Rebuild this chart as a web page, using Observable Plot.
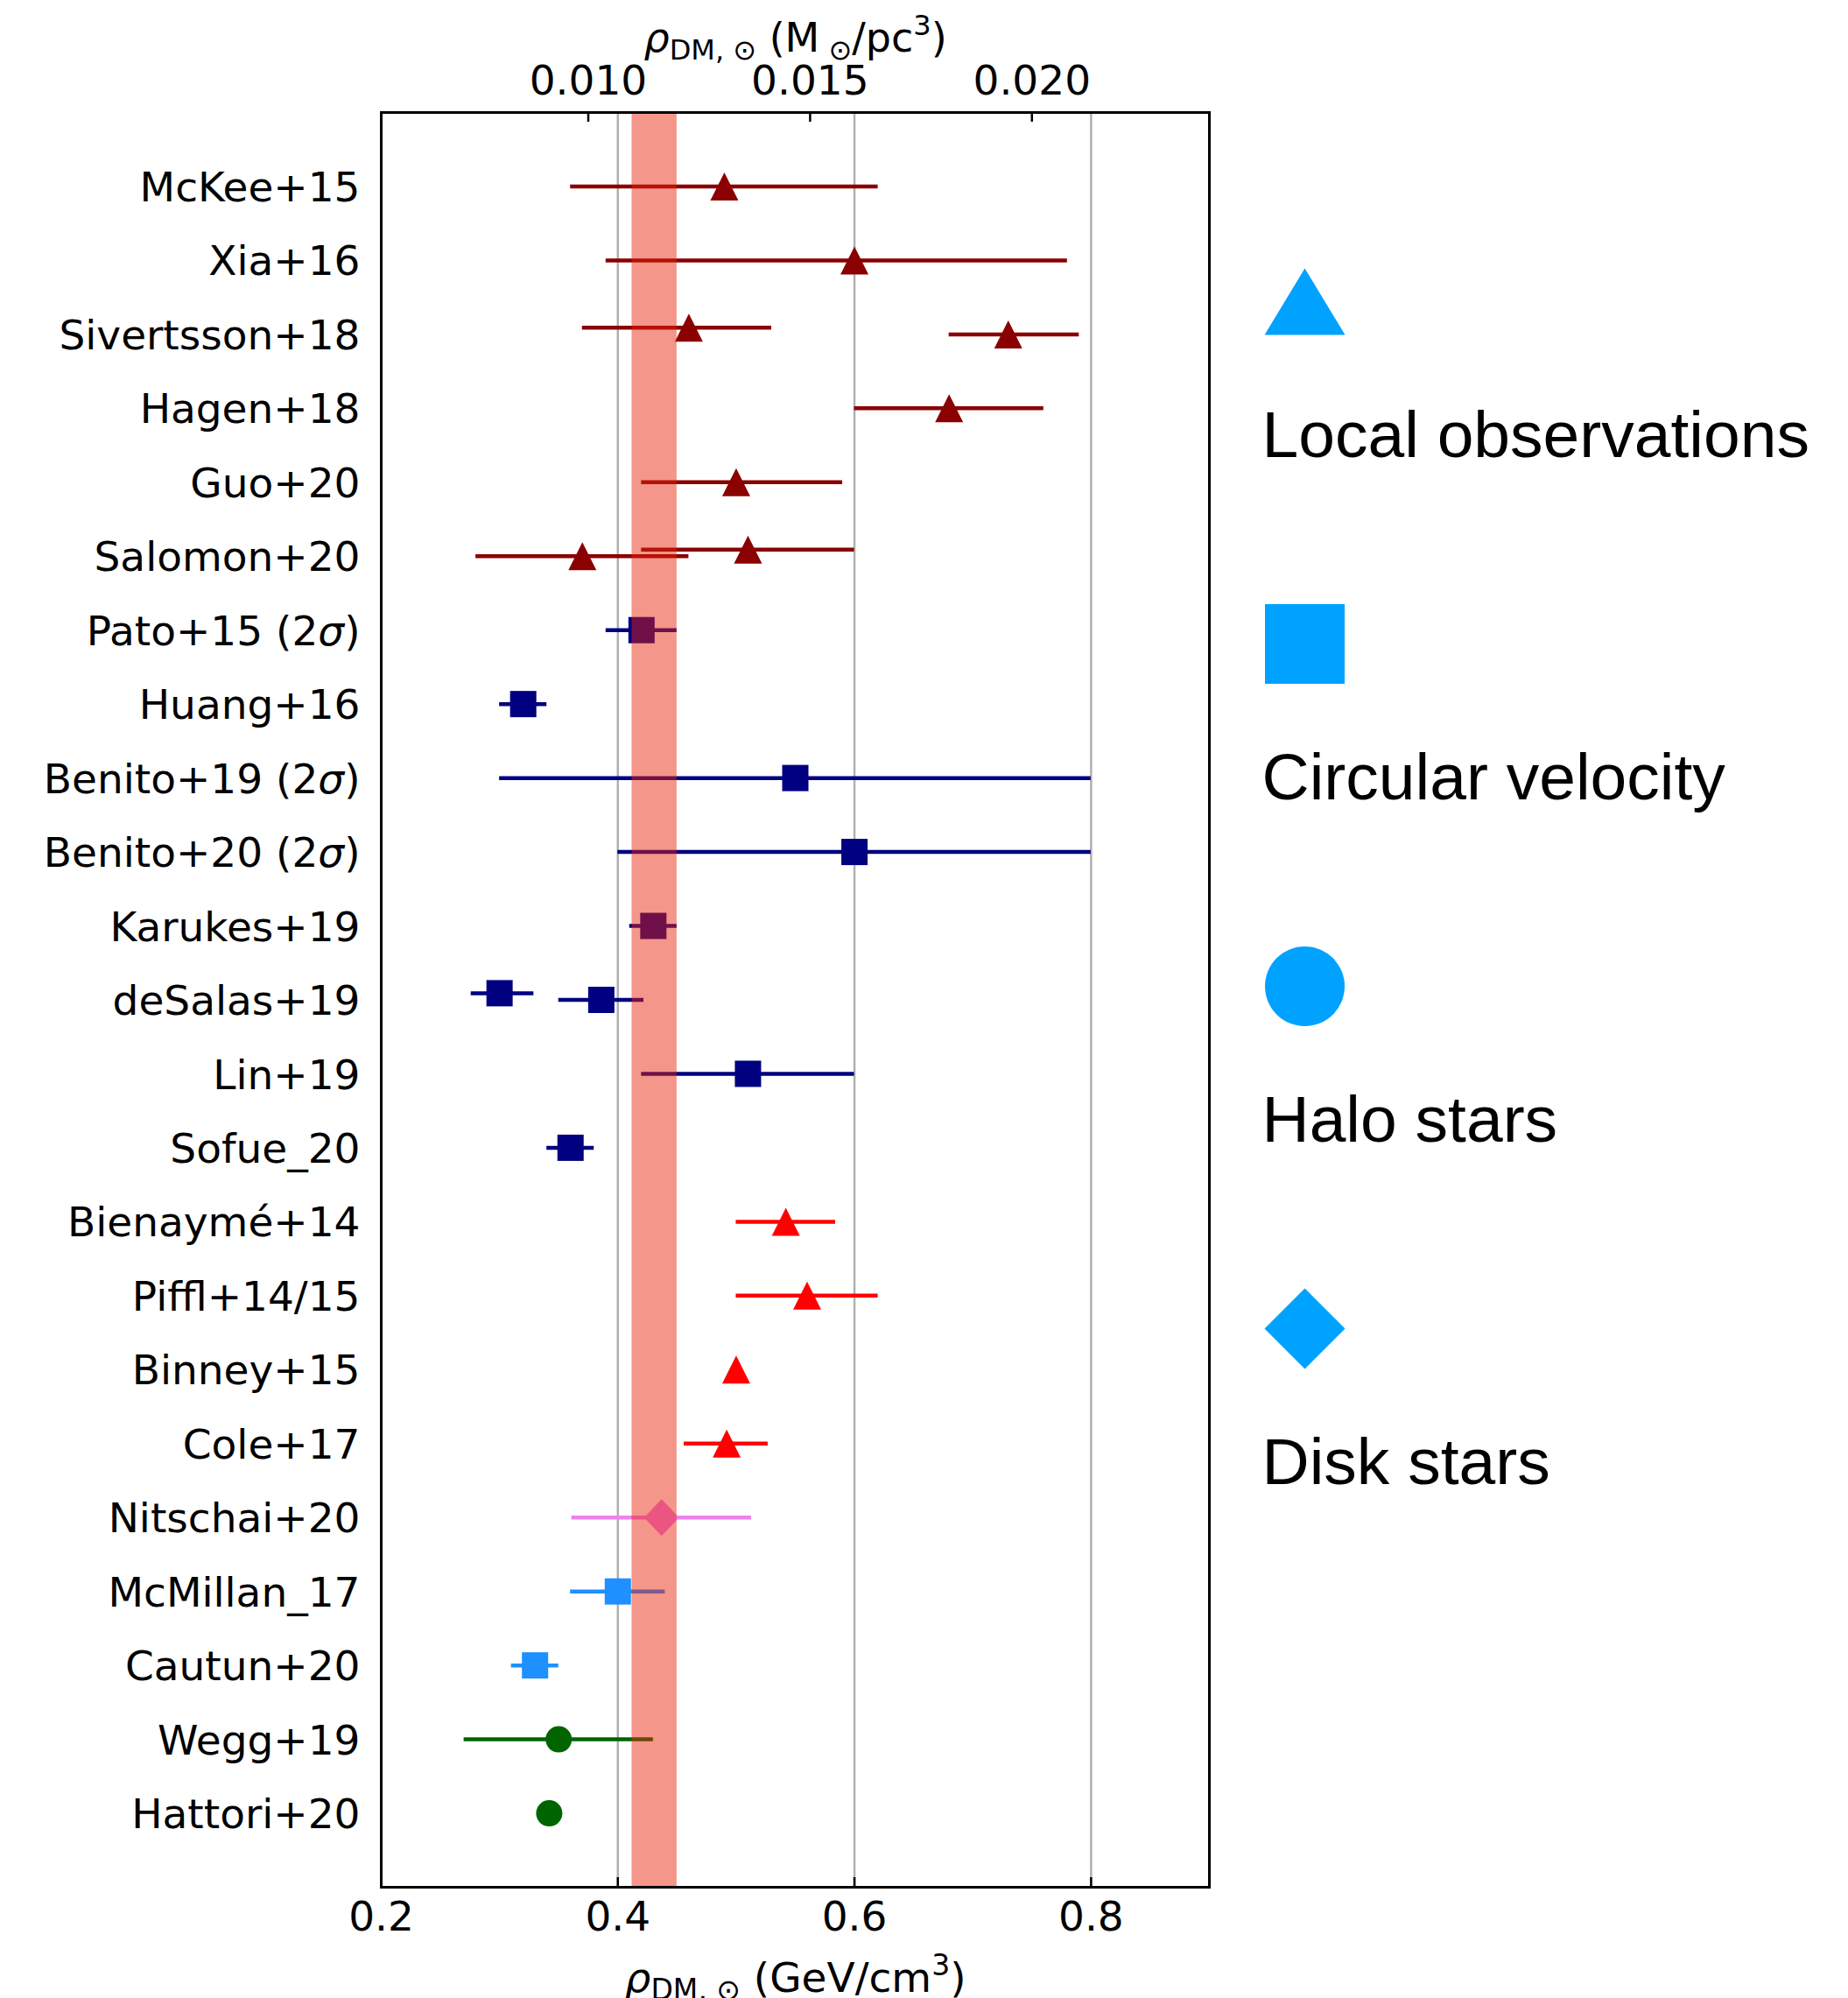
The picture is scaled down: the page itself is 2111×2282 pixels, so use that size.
<!DOCTYPE html>
<html>
<head>
<meta charset="utf-8">
<script src="https://cdn.jsdelivr.net/npm/d3@7"></script>
<script src="https://cdn.jsdelivr.net/npm/@observablehq/plot@0.6"></script>
<style>
html, body { margin: 0; padding: 0; background: #fff; }
#wrap { position: relative; width: 2111px; height: 2282px; background: #fff; }
#wrap svg { position: absolute; left: 0; top: 0; max-width: none; }
</style>
</head>
<body>
<div id="wrap"></div>
<script>
// ---------------- data ----------------
const studies = [
  "McKee+15", "Xia+16", "Sivertsson+18", "Hagen+18", "Guo+20", "Salomon+20",
  "Pato+15 (2σ)", "Huang+16", "Benito+19 (2σ)", "Benito+20 (2σ)", "Karukes+19",
  "deSalas+19", "Lin+19", "Sofue_20", "Bienaymé+14", "Piffl+14/15", "Binney+15",
  "Cole+17", "Nitschai+20", "McMillan_17", "Cautun+20", "Wegg+19", "Hattori+20"
];

// one entry per measurement (rows with two results list the upper-drawn one first)
const mStudy = [
  "McKee+15", "Xia+16", "Sivertsson+18", "Sivertsson+18", "Hagen+18", "Guo+20",
  "Salomon+20", "Salomon+20", "Pato+15 (2σ)", "Huang+16", "Benito+19 (2σ)",
  "Benito+20 (2σ)", "Karukes+19", "deSalas+19", "deSalas+19", "Lin+19", "Sofue_20",
  "Bienaymé+14", "Piffl+14/15", "Binney+15", "Cole+17", "Nitschai+20",
  "McMillan_17", "Cautun+20", "Wegg+19", "Hattori+20"
];
const mValue = [0.49, 0.60, 0.46, 0.73, 0.68, 0.50, 0.51, 0.37, 0.42, 0.32, 0.55,
                0.60, 0.43, 0.30, 0.386, 0.51, 0.36, 0.542, 0.56, 0.50, 0.492, 0.437,
                0.40, 0.33, 0.35, 0.342];
const mLow   = [0.36, 0.39, 0.37, 0.68, 0.60, 0.42, 0.42, 0.28, 0.39, 0.30, 0.30,
                0.40, 0.41, 0.276, 0.35, 0.42, 0.34, 0.50, 0.50, null, 0.456, 0.361,
                0.36, 0.31, 0.27, null];
const mHigh  = [0.62, 0.78, 0.53, 0.79, 0.76, 0.59, 0.60, 0.46, 0.45, 0.34, 0.80,
                0.80, 0.45, 0.329, 0.422, 0.60, 0.38, 0.584, 0.62, null, 0.527, 0.513,
                0.44, 0.35, 0.43, null];
const methods = ["Local observations", "Circular velocity", "Halo stars", "Disk stars"];
const mMethod = [0,0,0,0,0,0,0,0, 1,1,1,1,1,1,1,1,1, 0,0,0,0, 3, 1,1, 2,2].map(i => methods[i]);
const groups = ["vertical", "rotation", "dynamical", "disk-jeans", "mass-model", "halo"];
const mGroup = [0,0,0,0,0,0,0,0, 1,1,1,1,1,1,1,1,1, 2,2,2,2, 3, 4,4, 5,5].map(i => groups[i]);

const bottomTicks = [0.2, 0.4, 0.6, 0.8];
const gridTicks = [0.4, 0.6, 0.8];
const topTickLabels = [0.010, 0.015, 0.020];   // M_sun / pc^3
const gevPerMsun = 37.5;                        // GeV/cm^3 per M_sun/pc^3
const bandLow = [0.412];
const bandHigh = [0.45];

// ---------------- styles ----------------
const groupColors = ["darkred", "navy", "red", "violet", "dodgerblue", "darkgreen"];
const legendColor = "#00a2ff";
const W = 2111, H = 2282;
const mL = 435, mR = 730, mT = 128, mB = 127;
const frameH = H - mT - mB;
const font = "'DejaVu Sans', sans-serif";

function triSym(ky) {
  return {draw(ctx, size) {
    const r = Math.sqrt(size / Math.PI);
    ctx.moveTo(0, -r * ky); ctx.lineTo(r, r * ky); ctx.lineTo(-r, r * ky); ctx.closePath();
  }};
}
const squareSym = {draw(ctx, size) {
  const r = Math.sqrt(size / Math.PI);
  ctx.moveTo(-r, -r); ctx.lineTo(r, -r); ctx.lineTo(r, r); ctx.lineTo(-r, r); ctx.closePath();
}};
const circleSym = {draw(ctx, size) {
  const r = Math.sqrt(size / Math.PI);
  ctx.moveTo(r, 0); ctx.arc(0, 0, r, 0, 2 * Math.PI); ctx.closePath();
}};
function diamondSym(ky) {
  return {draw(ctx, size) {
    const r = Math.sqrt(size / Math.PI);
    ctx.moveTo(0, -r * ky); ctx.lineTo(r, 0); ctx.lineTo(0, r * ky); ctx.lineTo(-r, 0); ctx.closePath();
  }};
}

// ---------------- build table ----------------
const meas = mStudy.map((s, i) => ({
  study: s, row: studies.indexOf(s), v: mValue[i], lo: mLow[i], hi: mHigh[i],
  method: mMethod[i], group: mGroup[i]
}));
meas.forEach(d => {
  const same = meas.filter(e => e.row === d.row);
  d.y = d.row - (same.length > 1 && same[0] === d ? 0.09 : 0);
});
const bars = meas.filter(d => d.lo != null);
const byMethod = m => meas.filter(d => d.method === m);

const bottomLabel = "__BOTTOM_LABEL__";
const topLabel = "__TOP_LABEL__";

const main = Plot.plot({
  width: W, height: H,
  marginLeft: mL, marginRight: mR, marginTop: mT, marginBottom: mB,
  style: {background: "white", fontFamily: font, color: "black"},
  x: {domain: [0.2, 0.9], axis: null},
  y: {domain: [studies.length, -1], axis: null},
  color: {type: "ordinal", domain: groups, range: groupColors},
  marks: [
    Plot.ruleX(gridTicks, {x: d => d, stroke: "#b0b0b0", strokeWidth: 2.5}),
    Plot.ruleY(bars, {y: "y", x1: "lo", x2: "hi", stroke: "group", strokeWidth: 4.5, strokeLinecap: "butt"}),
    Plot.dot(byMethod(methods[0]), {x: "v", y: "y", fill: "group", symbol: triSym(1), r: 16}),
    Plot.dot(byMethod(methods[1]), {x: "v", y: "y", fill: "group", symbol: squareSym, r: 15}),
    Plot.dot(byMethod(methods[2]), {x: "v", y: "y", fill: "group", symbol: circleSym, r: 15}),
    Plot.dot(byMethod(methods[3]), {x: "v", y: "y", fill: "group", symbol: diamondSym(1.05), r: 20}),
    Plot.barX(bandLow.map((lo, i) => ({lo, hi: bandHigh[i]})), {x1: "lo", x2: "hi", fill: "#e8240b", fillOpacity: 0.48}),
    Plot.frame({stroke: "black", strokeWidth: 3}),
    Plot.tickX(bottomTicks, {x: d => d, insetTop: frameH - 11, stroke: "black", strokeWidth: 2.5}),
    Plot.tickX(topTickLabels.map(m => m * gevPerMsun), {x: d => d, insetBottom: frameH - 11, stroke: "black", strokeWidth: 2.5}),
    Plot.axisX({anchor: "bottom", ticks: bottomTicks, tickSize: 0, tickPadding: 16,
      tickFormat: d3.format(".1f"), fontSize: 47, label: null}),
    Plot.axisX({anchor: "top", ticks: topTickLabels.map(m => m * gevPerMsun), tickSize: 0, tickPadding: 21,
      tickFormat: d => (d / gevPerMsun).toFixed(3), fontSize: 47, label: null}),
    Plot.axisY({ticks: d3.range(studies.length), tickFormat: i => studies[i], tickSize: 0,
      tickPadding: 24, dy: 2, fontSize: 47, label: null}),
    Plot.text([bottomLabel], {text: d => d, frameAnchor: "bottom", dy: 119, lineAnchor: "bottom", fontSize: 47}),
    Plot.text([topLabel], {text: d => d, frameAnchor: "top", dy: -70, lineAnchor: "bottom", fontSize: 46})
  ]
});

// mathtext-like markup
main.querySelectorAll("text").forEach(t => {
  const s = t.textContent;
  if (s === bottomLabel) {
    t.innerHTML = '<tspan font-style="italic">ρ</tspan><tspan font-size="33" dy="9">DM, ⊙</tspan>' +
      '<tspan dy="-9"> (GeV/cm</tspan><tspan font-size="33" dy="-19">3</tspan><tspan dy="19">)</tspan>';
  } else if (s === topLabel) {
    t.innerHTML = '<tspan font-style="italic">ρ</tspan><tspan font-size="32" dy="9">DM, ⊙</tspan>' +
      '<tspan dy="-9"> (M</tspan><tspan font-size="32" dy="9"> ⊙</tspan><tspan dy="-9">/pc</tspan>' +
      '<tspan font-size="32" dy="-19">3</tspan><tspan dy="19">)</tspan>';
  } else if (s.includes("σ") && !t.querySelector("tspan")) {
    t.innerHTML = s.replace("σ", '<tspan font-style="italic">σ</tspan>');
  }
});

// ---------------- legend ----------------
const legendData = methods.map((m, i) => ({method: m, i}));
const lgTop = 344, lgStep = 391;
const legend = Plot.plot({
  width: W, height: H,
  marginLeft: 1490, marginRight: 0, marginTop: lgTop, marginBottom: H - lgTop - 3 * lgStep,
  style: {background: "transparent", fontFamily: "'Liberation Sans', Arial, Helvetica, sans-serif", color: "black"},
  x: {domain: [0, 1], axis: null},
  y: {domain: [3, 0], axis: null},
  marks: [
    Plot.dot(legendData.filter(d => d.i === 0), {x: 0, y: "i", symbol: triSym(38 / 46), r: 46, fill: legendColor}),
    Plot.dot(legendData.filter(d => d.i === 1), {x: 0, y: "i", symbol: squareSym, r: 45.5, fill: legendColor}),
    Plot.dot(legendData.filter(d => d.i === 2), {x: 0, y: "i", symbol: circleSym, r: 45.5, fill: legendColor}),
    Plot.dot(legendData.filter(d => d.i === 3), {x: 0, y: "i", symbol: diamondSym(1), r: 46, fill: legendColor}),
    Plot.text(legendData, {x: 0, y: "i", text: "method", textAnchor: "start", dx: -49, dy: 177,
      lineAnchor: "bottom", fontSize: 75, fill: "black"})
  ]
});

const wrap = document.getElementById("wrap");
wrap.appendChild(main);
wrap.appendChild(legend);
</script>
</body>
</html>
